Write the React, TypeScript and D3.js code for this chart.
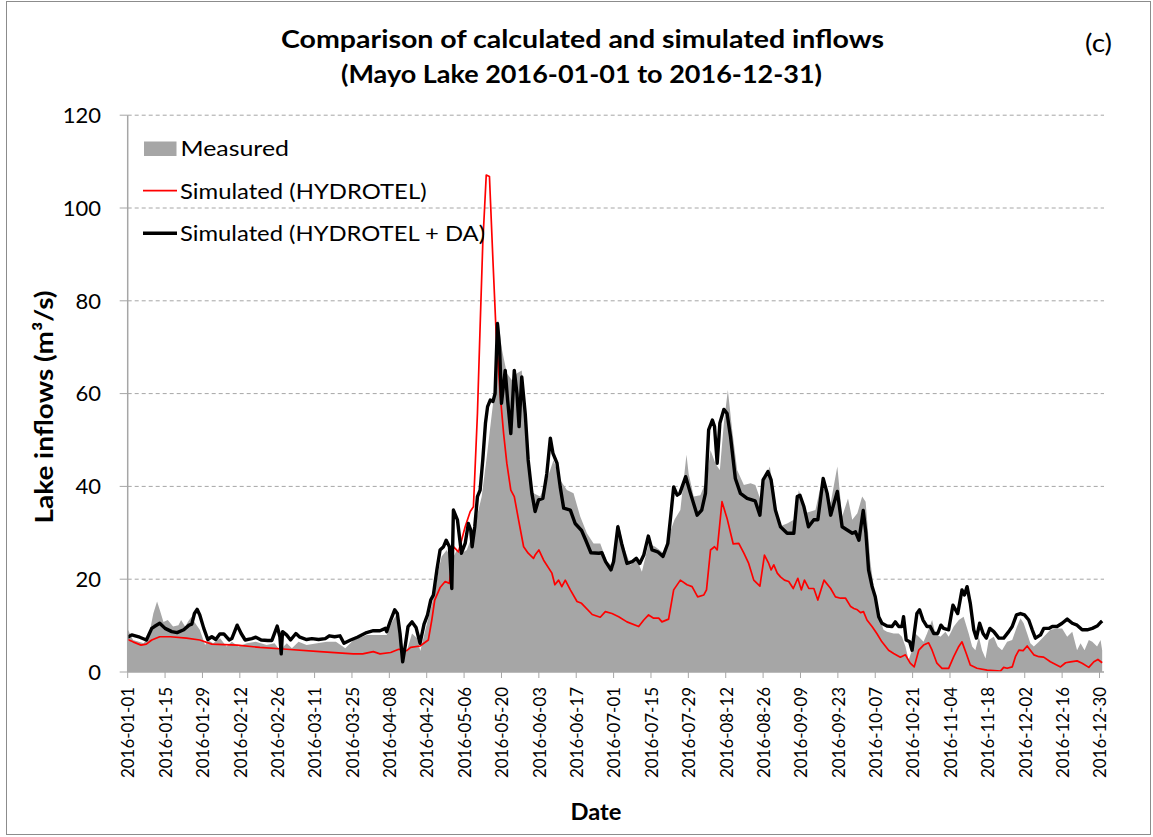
import React from "react";
import * as d3 from "d3";

// ---- Data (day offsets from 2016-01-01, values in m3/s) ----
const measuredDays = [0,2,6,8,9.6,11,12,13.4,15,17,19,20,21.5,23,24,25,27,29,30,32,34.6,37,39,41.5,44.6,48,52,55,57,59.6,61.5,64,67,71,74.6,78,81.5,84.6,89.6,93,97,99,100.6,102,103,104.6,106.5,108.4,109.6,111.5,113.4,115,116.4,117.6,119.5,121.4,123.3,125,127,128.9,130.8,132.6,134.5,136.4,137.6,138.9,140,142,143.9,145.8,147.6,148.9,150,152,154.5,157,159.5,162,164.5,167,169.5,172,174.5,177,179.5,182,183.9,185.8,188.3,190.8,192.6,195.1,197.6,200.8,203,204.8,207,209.3,210.1,212,214.5,216.8,218.3,220.1,221.8,223.3,224.8,226.4,228.3,230.8,233.3,235.1,237,238.9,240.5,242,243.9,247,249.5,251.4,253.5,255.8,257.6,259.5,261.4,263.3,265.8,267.6,269.8,271.4,273.3,275.1,276.4,277.2,278.1,279.4,280.6,281.9,283.1,284.4,286.9,288.8,290,291.3,292.5,293.8,295,296.3,298.1,299.4,301.3,302.5,304.4,306.3,307.5,309.4,311.3,313.1,315,316.3,317.5,318.8,320,321.3,322.5,324.4,325.9,327.5,329.4,331.3,333.1,334.4,335.6,336.9,338.1,339.4,341.3,343.1,345.6,348.1,350,351.9,353.8,355.6,356.9,358.4,360,361.3,363.1,364.4,365];
const measuredValues = [9.2,6.9,6.2,8,12.6,15.2,13.4,10.8,11.2,9.8,10.1,11.2,9.8,11.2,11.9,10.8,9.1,5.8,6.9,6.2,7.3,5.5,6.5,5.5,6.2,6.5,5.8,6.2,4.7,6.2,5.1,6.5,5.8,6.2,6.5,6.5,5.1,6.9,8.0,8.0,8,10.8,12.3,7.6,3.7,4.7,8.3,7.3,4.5,9.1,13.4,17,22,24.9,26.3,24.1,26.3,25.6,26.3,29.2,33.5,37.8,46.4,55.7,61.5,75.9,70,64.4,62.9,64.4,65,57.2,45.7,38.5,37.8,41.4,45.7,41.4,39.2,38.5,33.5,29.9,27.7,27.7,23.8,22.7,32,27,23.1,24.1,21.6,27.7,27,25.6,29.9,32.8,34.9,46.8,42.8,37.8,38.1,41.4,47.8,45,43.5,53.6,60.8,52.2,43.5,40.3,40.7,40.3,37.1,42.1,44.3,39.2,31.3,32,32.8,39.2,34.2,34.6,34.9,39.9,39.2,36.4,44.3,33.5,37.4,32.8,34.2,37.8,36.7,31,24.1,18.4,14.1,11.2,9.1,8.7,8.3,8.3,7.6,5.5,2.6,4.7,8.3,7.6,6.5,8.3,11.2,8.3,7.6,8.7,7.6,9.8,11.2,11.9,8.3,5.5,4.7,7.6,4.7,2.9,6.9,7.6,5.5,4.7,6.5,6.9,9.8,11.6,10.5,8.3,6.2,5.5,6.5,7.6,9.1,9.4,9.4,7.6,8.7,4.7,6.2,4.7,6.9,6.5,5.5,6.9,4.7];

const hydrotelDays = [0,2,5,7,9,12,16,22,27,31.5,41,49.5,59.5,72,84.5,88,92,94.5,98.5,101.5,104.5,106,109.5,112.6,113.9,115,117,118.9,120.5,122,123.9,126.4,128.3,129.5,131,132,133,134.3,135.5,136.8,138,139.5,140.8,142,143.5,144.8,146.4,148.3,150,152,152.6,154,155.8,158.9,160,161.4,162.6,163.9,165.8,168.3,170,174,177,178.9,181.4,183.9,187,191.4,193.3,195.1,197,198.9,200.1,202.6,204.5,207,209.5,211.4,213.5,215.8,216.8,218.3,219.8,220.8,222.6,224.5,226.8,228.9,230.8,232.6,234.5,236.8,238.5,240.1,241,242,243.3,244.5,246,247.6,249.3,251,252.3,253.5,255.1,257,258.5,260.8,263.3,265.1,267,268.9,270.8,272,273.3,274.5,275.6,276.9,278.8,280.6,282.5,285,286.9,289.4,291.3,293.1,294.6,296.3,298.1,300,301.3,303.1,305,307.5,309.4,311.3,312.5,314.1,315.6,318.1,321.9,326.9,328.1,329.4,331.3,332.5,333.8,335.4,336.9,338.1,339.4,341.3,343.1,345.6,349.4,351.3,353.1,355.6,357.5,360,361.9,363.4,365];
const hydrotelValues = [7.0,6.5,5.8,6.0,6.9,7.6,7.6,7.3,6.9,6.0,5.8,5.3,4.9,4.4,3.9,3.9,4.4,3.9,4.2,4.9,4.6,5.3,5.6,6.9,11.2,15.5,18.2,19.5,19.1,27,25.9,31.3,34.6,35.6,55.7,74.4,92.4,107.1,106.8,88.8,73,60,51.4,45,39.2,37.8,32.8,27,25.6,24.5,25.2,26.3,24.1,21.3,18.8,19.8,18.4,19.8,17.7,15.2,14.8,12.4,11.8,13.0,12.6,11.9,10.8,9.8,11.2,12.3,11.6,11.6,10.8,11.4,17.7,19.8,18.8,18.4,16.2,16.6,17.7,26.3,27,26.3,36.7,33.1,27.6,27.7,25.6,23.4,19.8,18.5,25.2,23.4,22,23.1,21.3,20.5,19.8,19.5,18,20.2,17.7,19.8,18,18,15.5,19.8,18,16.2,15.9,15.9,14.1,13.7,13.4,12.8,13,11.2,9.8,8.3,6.5,4.7,4.0,3.2,3.7,1.9,1.1,4.7,5.8,6.3,4.7,1.9,0.8,0.8,3.3,5.5,6.5,4,1.5,0.8,0.4,0.2,1.0,0.8,1.1,3.3,4.7,4.6,5.6,4.7,3.7,3.3,3.2,2.2,1.1,2.0,2.2,2.4,1.9,1.0,2.2,2.7,2.0];

const assimDays = [0,1.5,4.5,7,9,10,12,14,16.5,18.5,21,23,24,25,26,27,28.5,30,31.5,33,34.5,36,38,39,41,42.5,44,46.5,48,50,52.5,54,56,57,57.5,58,59.5,61,63,64.5,67,69,71.5,74,75.5,77.5,79.5,81,83.5,86,89.5,92,94.5,96.5,97,98.5,100,101,102,103,104,105,106.5,108,109.5,111,112.3,113.5,114.5,115.8,117,118.3,119.3,120.5,121.4,122,123.5,125,126.4,127.6,128.5,129,130,131,132,133,134,134.8,135.8,136.8,137.6,138.5,139.3,140,141.4,142.3,143.5,144.8,145.8,146.6,147.6,148.9,150,151.4,152.6,153.9,155.5,157,158.3,159.3,160.8,162,163.3,165.8,167.6,170,171.5,173.5,176.5,177.6,179,181,182,183.6,185,187,189,190.5,191.8,193.3,195,196.4,198.5,200.5,202.3,203.5,204.5,205.8,206.8,209,210.8,213.3,215,216.4,217.6,219,219.8,220.8,221.8,223.3,224.5,225.8,227.6,229.5,232,235,236.8,238,239.8,241,242.6,244.5,247,249.5,250.8,251.8,253.3,255,257,258.5,260.5,262,263.3,265.8,267.6,269.5,271.4,272.6,273.9,275.5,276.5,277.5,278.8,280,281.3,282.5,284.4,286.3,287.5,288.8,290,290.6,291.6,292.9,293.8,294.6,295.6,296.6,297.9,299.4,300.6,301.9,303.4,304.6,305.6,307.5,309.1,310.9,312.5,313.4,314.4,315.6,316.9,317.9,319.1,320.4,321.6,322.9,324.4,326.3,328.1,330,331.3,332.9,334.4,335.9,337.5,338.8,340,341.9,343.1,345,346.3,348.1,350,351.9,353.8,355.6,357.5,359.4,361.3,363.1,364.6,365];
const assimValues = [7.5,8.0,7.5,6.9,9.4,9.8,10.5,9.4,8.7,8.5,9.1,10.1,10.3,12.6,13.5,12.3,9.4,7.0,7.6,7.0,8.2,8.2,6.9,7.2,10.1,8.3,6.9,7.2,7.5,6.9,6.8,6.8,9.9,7.6,3.9,8.7,8.0,6.9,8.3,7.5,7.0,7.2,7.0,7.2,7.8,7.6,7.8,6.2,6.9,7.5,8.5,8.9,8.9,9.4,8.7,11.2,13.4,12.6,8.3,2.2,5.8,9.8,10.8,9.6,6.2,10.3,12.3,15.5,16.6,22,26.3,27,28.4,27,18,34.9,32.8,25.6,27.7,32,30.6,27,31.3,37.8,39.2,45.7,53.6,57.2,58.6,58.3,60,75.1,70,57.9,65,58.6,51.4,65,60,52.9,63.6,55.7,45.7,38.5,34.6,37.1,37.4,42.8,50.4,47.1,45,39.9,35.3,34.9,32,30.5,28.5,25.7,25.6,25.7,23.8,22,23.8,31.3,27.7,23.4,23.8,24.5,23.4,25.2,29.3,26.3,25.9,24.9,27.7,34.2,39.9,38.1,38.5,42.1,38.5,33.8,34.9,38.5,52.2,54.3,52.9,45,53.6,56.6,55.7,50.7,41.7,38.5,37.4,36.9,33.8,41.4,43.2,41.4,34.9,31.3,29.9,29.9,37.8,38.1,35.6,31.3,32.8,32.8,41.7,38.5,33.8,38.9,31.3,30.6,29.9,30.2,28.4,34.8,30,22,18.5,16.2,11.9,10.5,9.9,9.8,10.8,9.8,9.8,11.9,6.9,6.5,4.7,8.3,12.6,13.4,11.2,9.8,9.8,8.3,8.3,10.1,9.4,9.1,14.4,12.6,17.7,16.6,18.4,14.8,9.1,7.3,10.5,8.3,7.3,9.4,8.7,7.3,7.3,8.7,9.8,12.3,12.6,12.3,11.2,9.1,7.3,8.0,9.4,9.4,9.8,9.8,10.5,11.4,10.5,10.1,9.1,9.1,9.4,9.9,10.8,11];

const yTicks = [0, 20, 40, 60, 80, 100, 120];
const tickDayOffsets = [0,14,28,42,56,70,84,98,112,126,140,154,168,182,196,210,224,238,252,266,280,294,308,322,336,350,364];

const legendLabels = ["Measured", "Simulated (HYDROTEL)", "Simulated (HYDROTEL + DA)"];
const titleLines = ["Comparison of calculated and simulated inflows", "(Mayo Lake 2016-01-01 to 2016-12-31)"];

const DAY = 86400000;
const T0 = Date.UTC(2016, 0, 1);
const toDate = (d: number) => new Date(T0 + d * DAY);

const FONT = "Lato, 'Open Sans', sans-serif";

export default function App() {
  const W = 1153, H = 837;
  const left = 127.7, right = 1104, top = 115.2, bottom = 672;

  const x = d3.scaleUtc().domain([toDate(0), toDate(364)]).range([left, 1099.5]);
  const y = d3.scaleLinear().domain([0, 120]).range([bottom, top]);

  const measured = measuredDays.map((d, i) => ({ t: toDate(d), v: measuredValues[i] }));
  const hydrotel = hydrotelDays.map((d, i) => ({ t: toDate(d), v: hydrotelValues[i] }));
  const assim = assimDays.map((d, i) => ({ t: toDate(d), v: assimValues[i] }));

  const area = d3.area<{ t: Date; v: number }>().x(p => x(p.t)).y0(y(0)).y1(p => y(p.v));
  const line = d3.line<{ t: Date; v: number }>().x(p => x(p.t)).y(p => y(p.v));

  const fmt = d3.utcFormat("%Y-%m-%d");
  const ticks = tickDayOffsets.map(toDate);

  return (
    <svg width={W} height={H} style={{ position: "absolute", left: 0, top: 0, background: "#fff" }} fontFamily={FONT}>
      <rect x={6.5} y={1.5} width={1144} height={833} fill="#fff" stroke="#8c8c8c" strokeWidth={1} />

      {/* gridlines */}
      {yTicks.filter(t => t > 0).map(t => (
        <line key={"g" + t} x1={left} x2={right} y1={y(t)} y2={y(t)} stroke="#a6a6a6" strokeWidth={1} strokeDasharray="4,3" />
      ))}

      {/* measured area */}
      <path d={area(measured) || ""} fill="#a6a6a6" />
      {/* simulated hydrotel */}
      <path d={line(hydrotel) || ""} fill="none" stroke="#ff0000" strokeWidth={1.7} strokeLinejoin="round" />
      {/* simulated + DA */}
      <path d={line(assim) || ""} fill="none" stroke="#000" strokeWidth={3.4} strokeLinejoin="round" />

      {/* axes */}
      <line x1={left} x2={left} y1={top} y2={bottom} stroke="#a6a6a6" strokeWidth={1.5} />
      <line x1={left} x2={right} y1={bottom} y2={bottom} stroke="#a6a6a6" strokeWidth={1.5} />
      {yTicks.map(t => (
        <g key={"yt" + t}>
          <line x1={left - 8} x2={left} y1={y(t)} y2={y(t)} stroke="#a6a6a6" strokeWidth={1} />
          <text x={101} y={y(t)} dy="0.35em" textAnchor="end" fontSize={22} fill="#000">{t}</text>
        </g>
      ))}
      {ticks.map((t, i) => (
        <g key={"xt" + i}>
          <line x1={x(t)} x2={x(t)} y1={bottom} y2={bottom + 6} stroke="#a6a6a6" strokeWidth={1} />
          <text transform={`translate(${x(t) + 1},687) rotate(-90)`} textAnchor="end" dy="0.35em" fontSize={16.5} fill="#000" textLength={91} lengthAdjust="spacingAndGlyphs">{fmt(t)}</text>
        </g>
      ))}

      {/* axis titles */}
      <text transform="translate(45,407) rotate(-90)" textAnchor="middle" dy="0.35em" fontSize={24} fontWeight="bold" fill="#000" textLength={233} lengthAdjust="spacingAndGlyphs">Lake inflows (m³/s)</text>
      <text x={596} y={820} textAnchor="middle" fontSize={22} fontWeight="bold" fill="#000" textLength={51} lengthAdjust="spacingAndGlyphs">Date</text>

      {/* title */}
      <text x={582.5} y={48} textAnchor="middle" fontSize={24} fontWeight="bold" fill="#000" textLength={603} lengthAdjust="spacingAndGlyphs">{titleLines[0]}</text>
      <text x={581.5} y={83} textAnchor="middle" fontSize={24} fontWeight="bold" fill="#000" textLength={481} lengthAdjust="spacingAndGlyphs">{titleLines[1]}</text>
      <text x={1098.5} y={52} textAnchor="middle" fontSize={25} fill="#000" textLength={27} lengthAdjust="spacingAndGlyphs">(c)</text>

      {/* legend */}
      <rect x={144} y={141.5} width={32.5} height={14.5} fill="#a6a6a6" />
      <text x={180.5} y={156} fontSize={22} fill="#000" textLength={108.5} lengthAdjust="spacingAndGlyphs">{legendLabels[0]}</text>
      <line x1={143} x2={177} y1={190.7} y2={190.7} stroke="#ff0000" strokeWidth={1.7} />
      <text x={180} y={199.3} fontSize={22} fill="#000" textLength={246.5} lengthAdjust="spacingAndGlyphs">{legendLabels[1]}</text>
      <line x1={143} x2={177} y1={233.3} y2={233.3} stroke="#000" strokeWidth={3.4} />
      <text x={180} y={240.5} fontSize={22} fill="#000" textLength={305} lengthAdjust="spacingAndGlyphs">{legendLabels[2]}</text>
    </svg>
  );
}
